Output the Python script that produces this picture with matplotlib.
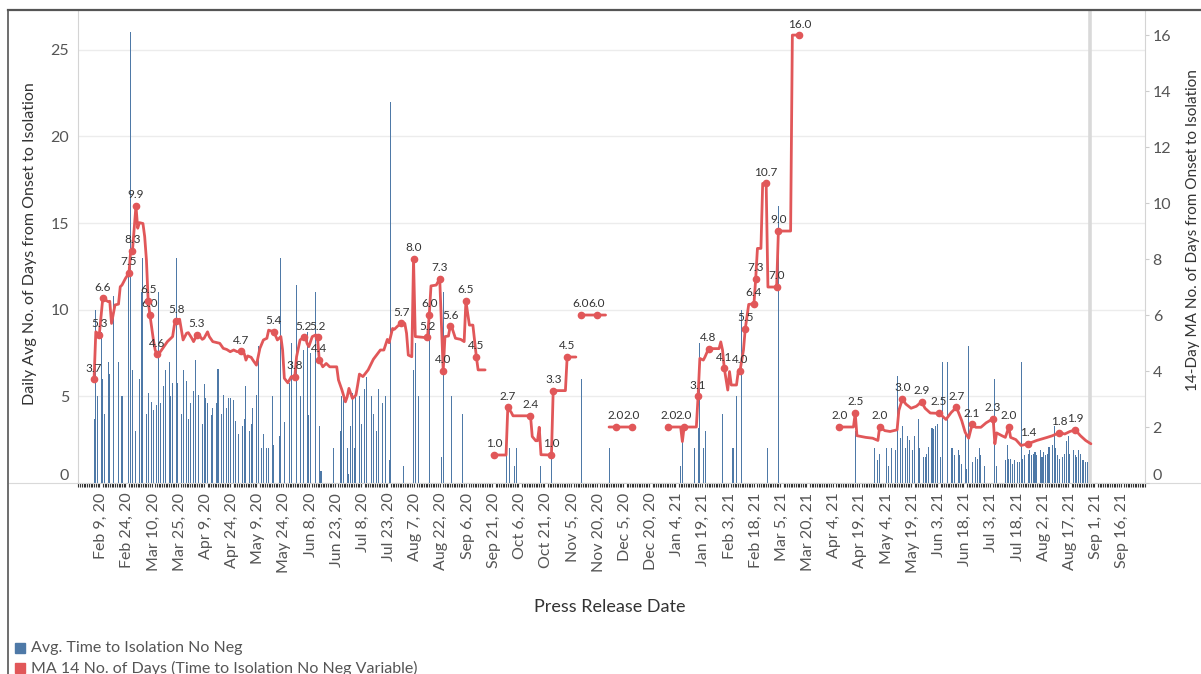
import datetime as dt
import numpy as np
import matplotlib
matplotlib.use("Agg")
import matplotlib.pyplot as plt
import matplotlib.dates as mdates
from matplotlib.lines import Line2D
from matplotlib.patches import Rectangle

plt.rcParams['font.family'] = ['Lato', 'DejaVu Sans']

nan = np.nan
start = dt.date(2020, 2, 9)   # day 0 of the offsets below

# daily average days from onset to isolation (bars), day offsets from Feb 9, 2020
bar_day = [-4, -3, -2, 0, 1, 2, 4, 5, 7, 10, 12,
           16, 17, 18, 20, 22, 23, 24, 26, 27, 29, 30,
           32, 33, 34, 36, 37, 39, 40, 41, 43, 44, 46,
           47, 49, 50, 51, 53, 54, 56, 58, 59, 60, 61,
           63, 64, 66, 67, 69, 70, 72, 73, 74, 76, 77,
           79, 81, 82, 83, 85, 86, 87, 89, 90, 92, 93,
           95, 96, 98, 99, 102, 103, 105, 108, 109, 112, 114,
           116, 118, 119, 120, 123, 125, 126, 133, 137, 138, 139,
           141, 142, 143, 144, 145, 146, 148, 149, 151, 152, 155,
           156, 158, 159, 161, 163, 165, 166, 173, 179, 180, 182,
           188, 195, 196, 201, 207,
           232, 234, 237, 238, 252, 258, 275, 291,
           332, 333, 340, 342, 343, 345, 346, 356, 362, 364, 367, 382, 388,
           432, 443, 445, 446, 450, 451, 453, 455, 456, 458, 459,
           461, 462, 463, 465, 466, 468, 469, 471, 472, 473, 474,
           476, 477, 478, 479, 481, 482, 485, 487, 488, 489, 491,
           492, 493, 495, 496, 497, 499, 501, 502, 503, 504, 506,
           512, 513, 518, 519, 520, 521, 522, 523, 525, 526, 527,
           528, 529, 531, 532, 533, 534, 535, 536, 538, 539, 540,
           541, 542, 543, 545, 546, 547, 548, 549, 551, 552, 553,
           554, 555, 557, 558, 559, 560, 561, 562, 563, 564, 565]
bar_val = [3.7, 10.0, 5.0, 8.7, 6.0, 4.0, 7.0, 6.3, 10.8, 7.0, 5.0,
           12.3, 26.0, 6.5, 3.0, 6.0, 11.0, 13.0, 4.0, 5.2, 4.7, 4.2,
           4.5, 11.0, 4.6, 5.6, 6.5, 7.0, 5.0, 5.8, 13.0, 5.8, 4.0,
           6.5, 5.9, 3.7, 4.6, 5.3, 7.1, 5.1, 3.4, 5.7, 4.9, 4.6,
           3.9, 4.3, 4.6, 6.6, 4.0, 5.1, 4.3, 4.9, 4.9, 4.8, 3.6,
           2.8, 3.3, 3.7, 5.6, 3.0, 3.4, 4.3, 5.1, 7.9, 2.0, 2.8,
           2.0, 2.0, 5.0, 2.2, 2.7, 13.0, 3.5, 5.8, 8.1, 11.4, 5.0,
           7.7, 8.7, 3.9, 7.5, 11.0, 3.3, 0.7, 2.0, 3.0, 5.0, 5.0,
           2.0, 0.5, 3.3, 5.2, 2.0, 5.0, 5.0, 3.4, 5.4, 6.1, 5.0,
           4.0, 3.0, 5.4, 4.6, 5.0, 1.3, 22.0, 1.0, 6.5, 8.1, 5.0,
           9.5, 1.5, 11.0, 5.0, 4.0,
           2.0, 2.0, 1.0, 2.0, 1.0, 2.0, 6.0, 2.0,
           1.0, 2.5, 2.0, 3.2, 8.1, 2.0, 3.0, 4.0, 2.0, 5.0, 10.0, 2.0, 16.0,
           3.0, 2.0, 1.3, 1.7, 2.0, 1.0, 2.0, 1.9, 6.2, 2.6, 3.3,
           2.0, 2.7, 2.5, 1.9, 2.7, 3.7, 2.0, 1.5, 1.5, 1.7, 2.1,
           3.2, 3.1, 3.3, 3.4, 1.5, 7.0, 7.0, 2.0, 2.0, 1.6, 1.9,
           1.6, 1.1, 2.8, 0.8, 7.9, 1.2, 1.5, 1.4, 2.0, 1.6, 1.0,
           6.0, 1.0, 1.3, 2.2, 1.4, 1.4, 1.1, 1.3, 1.2, 1.2, 7.0,
           1.4, 1.6, 1.7, 1.9, 1.6, 1.7, 1.8, 1.6, 1.9, 1.5, 1.8,
           1.6, 1.7, 2.1, 2.2, 3.3, 2.0, 1.6, 1.4, 1.5, 1.7, 2.4,
           2.7, 1.7, 1.9, 1.6, 1.5, 1.9, 1.7, 1.3, 1.3, 1.2, 1.2]

# 14-day moving average (line), nan marks a gap
ma_day = [-4, -3, -1, 1, 4, 5, 6, 8, 10, 11, 12, 14, 16, 17, 18, 20, 21, 22, 24, 25,
          26, 27, 28, 30, 31, 32, 34, 36, 38, 41, 42, 43, 45, 47, 49, 50, 52, 53, 55, 56,
          58, 59, 61, 62, 64, 68, 70, 72, 74, 76, 78, 80, 82, 83, 84, 86, 87, 89, 91, 93,
          95, 96, 99, 101, 103, 104, 105, 107, 109, 111, 112, 114, 116, 117, 118, 119, 121, 123, 124, 125,
          127, 129, 131, 135, 136, 138, 140, 141, 142, 144, 146, 147, 148, 150, 153, 156, 160, 162, 164, 165,
          167, 168, 170, 172, 174, 175, 176, 178, 179, 180, 185, 187, 188, 189, 192, 194, 196, 197, 199, 200,
          201, 203, 206, 208, 209, 211, 213, 215, 216, 220, nan,
          224, 225, 232, 233, 235, 236, 246, 247, 249, 250, 251, 252, 258, 259, 266, 267, 272, nan,
          275, 284, 289, nan,
          291, 295, 304, 305, nan,
          325, 332, 333, 334, 341, 342, 343, 345, 346, 348, 354, 355, 356, 357, 359, 360, 361, 364, 365, 366,
          368, 369, 371, 374, 375, 376, 378, 379, 381, 382, 387, 388, 395, 396, 400, nan,
          423, 431, 432, 433, 438, 442, 445, 446, 449, 452, 456, 457, 459, 461, 464, 467, 470, 472, 475, 479,
          480, 484, 487, 490, 493, 495, 497, 499, 501, 504, 507, 511, 512, 513, 516, 518, 520, 521, 524, 527,
          531, 536, 542, 545, 549, 552, 555, 558, 561, 564, 567]
ma_val = [3.7, 5.4, 5.3, 6.6, 6.48, 6.49, 5.7, 6.36, 6.39, 7.01, 7.07, 7.31, 7.5, 8.3, 8.3, 9.9, 9.1, 9.3, 9.27, 8.8,
          7.96, 6.5, 6.0, 5.11, 4.75, 4.6, 4.69, 4.87, 5.05, 5.23, 5.64, 5.8, 5.85, 5.11, 5.35, 5.37, 5.17, 5.05, 5.3, 5.29,
          5.13, 5.17, 5.4, 5.23, 5.05, 4.99, 4.81, 4.77, 4.69, 4.75, 4.69, 4.7, 4.63, 4.39, 4.54, 4.49, 4.39, 4.21, 4.81, 5.11,
          5.17, 5.46, 5.4, 5.11, 5.23, 4.75, 3.74, 3.58, 3.8, 3.8, 4.51, 5.11, 5.2, 5.23, 4.99, 4.87, 5.23, 5.29, 5.2, 4.4,
          4.15, 4.27, 4.15, 4.15, 3.68, 3.32, 2.9, 3.08, 3.38, 3.02, 3.14, 3.5, 3.89, 3.8, 4.04, 4.42, 4.75, 4.75, 5.13, 5.01,
          5.52, 5.49, 5.61, 5.7, 5.7, 5.35, 4.57, 4.51, 8.0, 5.23, 5.2, 5.2, 6.0, 7.04, 7.07, 7.3, 4.0, 5.23, 5.25, 5.6,
          5.55, 5.17, 5.13, 5.05, 6.5, 5.64, 5.64, 4.5, 4.04, 4.04, nan,
          1.0, 1.0, 1.0, 2.7, 2.52, 2.4, 2.4, 1.66, 1.51, 1.51, 1.99, 1.01, 1.0, 3.3, 3.3, 4.5, 4.5, nan,
          6.0, 6.0, 6.0, nan,
          2.0, 2.0, 2.0, 2.0, nan,
          2.0, 2.0, 1.48, 2.0, 2.0, 3.1, 4.45, 4.39, 4.51, 4.8, 4.8, 5.04, 4.75, 4.1, 3.32, 3.98, 3.5, 3.5, 3.98, 4.0,
          4.75, 5.5, 6.38, 6.4, 7.3, 8.38, 8.38, 10.7, 10.7, 7.0, 7.0, 9.0, 9.0, 16.0, 16.0, nan,
          2.0, 2.0, 2.5, 1.69, 1.63, 1.6, 1.52, 2.0, 1.87, 1.84, 1.9, 2.59, 3.0, 2.82, 2.67, 2.74, 2.9, 2.67, 2.5, 2.49,
          2.5, 2.27, 2.52, 2.7, 2.23, 1.81, 1.6, 2.1, 1.99, 1.99, 2.15, 2.3, 1.4, 1.79, 1.69, 1.63, 2.0, 1.63, 1.55, 1.34,
          1.4, 1.52, 1.63, 1.69, 1.8, 1.75, 1.84, 1.9, 1.69, 1.52, 1.4]

# days whose moving-average value carries a data label
ma_label_day = [-4, -1, 1, 16, 18, 20, 27, 28, 32, 43, 55, 80, 99, 111, 116, 124, 125,
                172, 179, 187, 188, 194, 196, 200, 209, 215,
                225, 233, 246, 258, 259, 267, 275, 284, 295, 304,
                325, 334, 342, 348, 357, 366, 369, 374, 375, 381, 387, 388, 400,
                423, 432, 446, 459, 470, 480, 490, 499, 511, 520, 531, 549, 558]

ref_day = 566.5   # grey reference line at the end of the data
tick_step = 15
n_ticks = 40

blue = '#4e79a7'
red = '#e15759'

base = mdates.date2num(start)

fig = plt.figure(figsize=(12.01, 6.74), dpi=100)
ax = fig.add_axes([78 / 1201, 1 - 483 / 674, 1067 / 1201, 472 / 674])

ax.bar(base + np.array(bar_day), bar_val, width=0.6, color=blue, linewidth=0, zorder=2)
ax.axvline(base + ref_day, color='#d9d9d9', lw=2.6, zorder=1)
ax.set_xlim(base - 13.2, base + 598)
ax.set_ylim(0, 27.24)
ax.set_yticks([0, 5, 10, 15, 20, 25])
ax.yaxis.grid(True, color='#ececec', lw=1)
ax.set_axisbelow(True)
ax.tick_params(axis='y', length=0, pad=6.5, labelsize=11.5, labelcolor='#555555')
ax.yaxis.get_major_ticks()[0].label1.set_va('bottom')

ticks = [base + tick_step * k for k in range(n_ticks)]
tick_labels = []
for t in ticks:
    d = mdates.num2date(t)
    tick_labels.append(f"{d:%b} {d.day}, {d:%y}")
ax.set_xticks(ticks)
ax.set_xticklabels(tick_labels, rotation=90, fontsize=11.5, color='#555555')
ax.tick_params(axis='x', which='major', length=0, pad=7)
ax.xaxis.set_minor_locator(mdates.DayLocator())
ax.tick_params(axis='x', which='minor', length=3, width=0.8, color='#333333')

for s in ['top', 'right']:
    ax.spines[s].set_visible(False)
ax.spines['left'].set_color('#d4d4d4')
ax.spines['bottom'].set_color('#d4d4d4')

ax2 = ax.twinx()
mx = base + np.array(ma_day, dtype=float)
ax2.plot(mx, ma_val, color=red, lw=2.0, solid_joinstyle='round', solid_capstyle='round', zorder=3)
for d in ma_label_day:
    v = ma_val[ma_day.index(d)]
    ax2.plot(base + d, v, 'o', ms=4.5, color=red, zorder=4)
    ax2.annotate(f"{v:.1f}", (base + d, v), xytext=(0, 4), textcoords='offset points',
                 ha='center', va='bottom', fontsize=8.5, color='#333333')
ax2.set_ylim(0, 16.86)
ax2.set_yticks(range(0, 17, 2))
ax2.tick_params(axis='y', length=3, color='#cccccc', pad=2.5, labelsize=11.5, labelcolor='#555555')
ax2.yaxis.get_major_ticks()[0].label2.set_va('bottom')
for s in ['top', 'left', 'bottom']:
    ax2.spines[s].set_visible(False)
ax2.spines['right'].set_color('#d4d4d4')

# axis titles
fig.text(30 / 1201, 1 - 244 / 674, 'Daily Avg No. of Days from Onset to Isolation', rotation=90,
         ha='center', va='center', fontsize=11.5, color='#333333')
fig.text(1193 / 1201, 1 - 230 / 674, '14-Day MA No. of Days from Onset to Isolation', rotation=90,
         ha='center', va='center', fontsize=11, color='#333333')
fig.text(610 / 1201, 1 - 607 / 674, 'Press Release Date', ha='center', va='center',
         fontsize=13, color='#333333')

# frame lines
fig.add_artist(Line2D([8 / 1201, 8 / 1201], [0, 1 - 10 / 674], transform=fig.transFigure, color='#555555', lw=1.2))
fig.add_artist(Line2D([8 / 1201, 1], [1 - 10 / 674, 1 - 10 / 674], transform=fig.transFigure, color='#555555', lw=1.6))
fig.add_artist(Line2D([9 / 1201, 1], [1 - 483 / 674, 1 - 483 / 674], transform=fig.transFigure, color='#d9d9d9', lw=0.8, zorder=0))

# legend
legend_items = [('Avg. Time to Isolation No Neg', blue),
                ('MA 14 No. of Days (Time to Isolation No Neg Variable)', red)]
for i, (txt, col) in enumerate(legend_items):
    yc = 648 + 20 * i
    fig.add_artist(Rectangle((15 / 1201, 1 - (yc + 5) / 674), 10 / 1201, 10 / 674,
                             transform=fig.transFigure, color=col))
    fig.text(31 / 1201, 1 - yc / 674, txt, ha='left', va='center', fontsize=11.5, color='#555555')

fig.savefig('out.png', dpi=100)
